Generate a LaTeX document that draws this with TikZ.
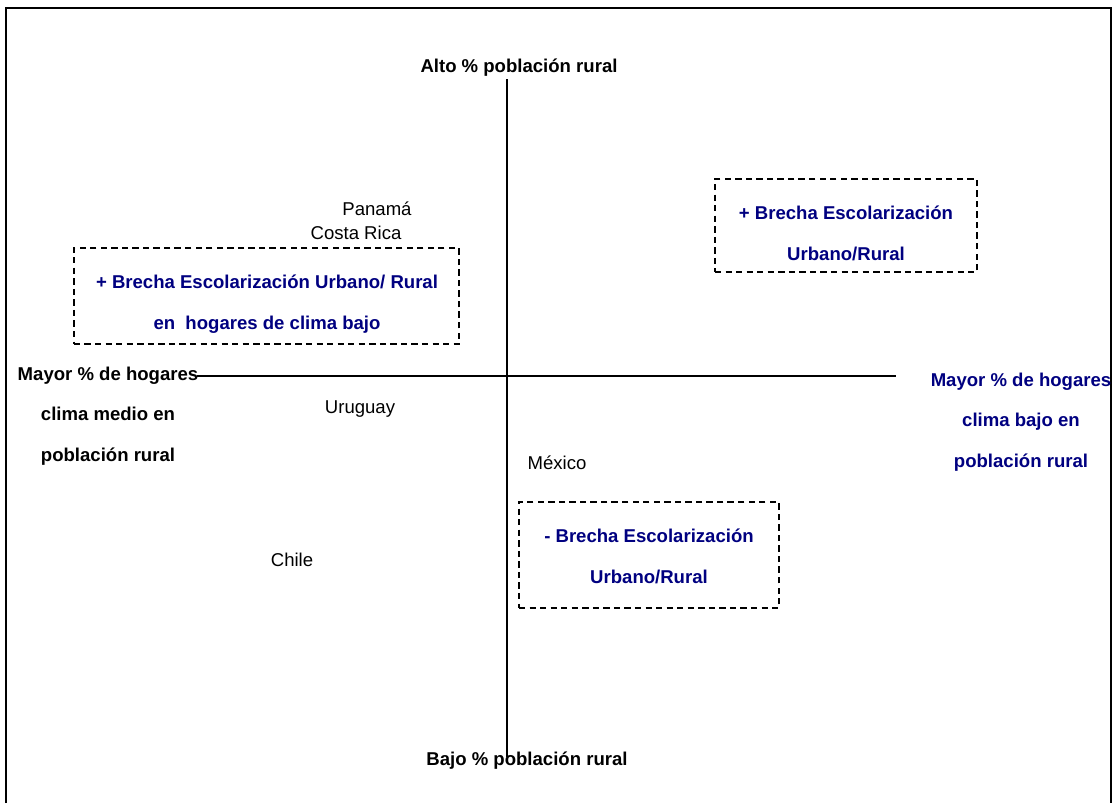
\documentclass[tikz,border=0pt]{standalone}
\usepackage{fontspec}
\setmainfont{Liberation Sans}
\definecolor{brechablue}{RGB}{0,0,128}
\tikzset{
  brechabox/.style={draw,line width=1.1pt,dash pattern=on 4.5pt off 3pt,inner sep=0pt},
  brechatext/.style={text=brechablue,font=\fontsize{13.2pt}{29pt}\selectfont\bfseries,align=center},
  axislabel/.style={font=\fontsize{13.2pt}{29pt}\selectfont\bfseries,align=center},
  country/.style={font=\fontsize{13.2pt}{15pt}\selectfont}
}
\begin{document}
\begin{tikzpicture}[x=0.025cm,y=-0.025cm]
\useasboundingbox (0,0) rectangle (1112,803);
\coordinate (T) at (507,79);
\coordinate (B) at (507,757);
\coordinate (L) at (197,376);
\coordinate (R) at (896,376);
\draw [line width=1.2pt] (6,803) -- (6,8) -- (1111,8) -- (1111,803);
\draw [line width=0.9pt] (T) -- (B);
\draw [line width=0.9pt] (L) -- (R);
\node [axislabel] (alto) at (519,68) {Alto \% población rural};
\node [axislabel] (bajo) at (527,761) {Bajo \% población rural};
\node [axislabel] (medio) at (108,416) {Mayor \% de hogares\\clima medio en\\población rural};
\node [axislabel,text=brechablue] (bajoclima) at (1021,422) {Mayor \% de hogares\\clima bajo en\\población rural};
\node [brechabox,minimum width=9.625cm,minimum height=2.4cm] (box1) at (266.5,296) {};
\node [brechatext] (txt1) at (267,304) {+ Brecha Escolarización Urbano/ Rural\\en\ \ hogares de clima bajo};
\node [brechabox,minimum width=6.55cm,minimum height=2.325cm] (box2) at (846,225.5) {};
\node [brechatext] (txt2) at (846,233) {+ Brecha Escolarización\\Urbano/Rural};
\node [brechabox,minimum width=6.5cm,minimum height=2.65cm] (box3) at (649,555) {};
\node [brechatext] (txt3) at (649,556) {- Brecha Escolarización\\Urbano/Rural};
\node [country] (panama) at (377,209) {Panamá};
\node [country] (costarica) at (356,233) {Costa Rica};
\node [country] (uruguay) at (360,409) {Uruguay};
\node [country] (mexico) at (557,463) {México};
\node [country] (chile) at (292,560) {Chile};
\end{tikzpicture}
\end{document}
